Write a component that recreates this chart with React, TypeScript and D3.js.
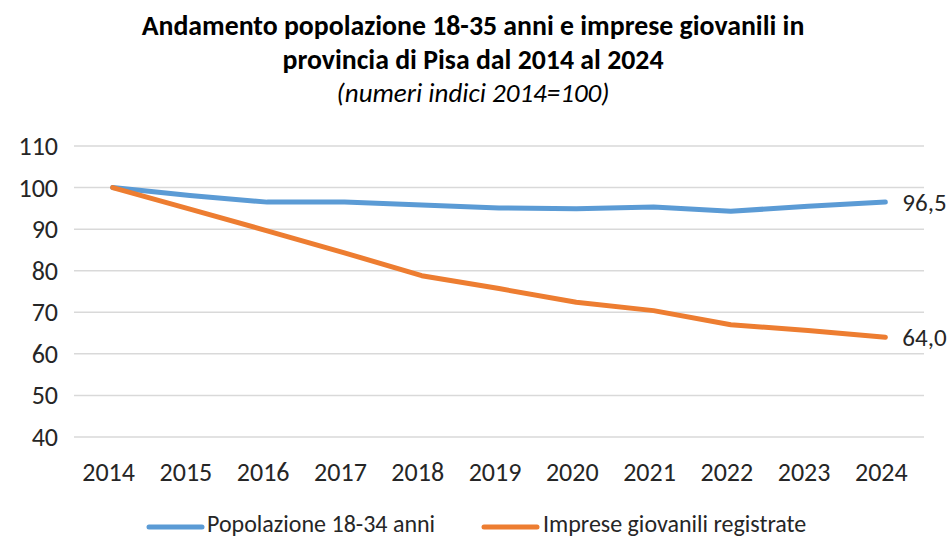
import { useMemo } from "react";
import * as d3 from "d3";

const years = ["2014", "2015", "2016", "2017", "2018", "2019", "2020", "2021", "2022", "2023", "2024"];
const popolazione = [100, 98.1, 96.5, 96.5, 95.8, 95.1, 94.9, 95.3, 94.3, 95.5, 96.5];
const imprese = [100, 94.8, 89.6, 84.3, 78.8, 75.7, 72.4, 70.4, 67.0, 65.6, 64.0];
const yTickValues = [40, 50, 60, 70, 80, 90, 100, 110];

const WIDTH = 948;
const HEIGHT = 537;
const FONT = "Carlito, Calibri, Lato, 'Open Sans', sans-serif";

const BLUE = "#5B9BD5";
const ORANGE = "#ED7D31";
const TEXT = "#262626";

export default function App() {
  const margin = { top: 146, right: 24, bottom: 100, left: 74 };

  const xScale = useMemo(
    () => d3.scaleBand().domain(years).range([margin.left, WIDTH - margin.right]),
    []
  );
  const yScale = useMemo(
    () => d3.scaleLinear().domain([40, 110]).range([HEIGHT - margin.bottom, margin.top]),
    []
  );

  const cx = (y: string) => (xScale(y) ?? 0) + xScale.bandwidth() / 2;

  const line = d3
    .line<number>()
    .x((_, i) => cx(years[i]))
    .y((d) => yScale(d));

  const series = [
    { name: "Popolazione 18-34 anni", values: popolazione, color: BLUE },
    { name: "Imprese giovanili registrate", values: imprese, color: ORANGE },
  ];
  const fmt = (v: number) => v.toFixed(1).replace(".", ",");

  return (
    <svg
      width={WIDTH}
      height={HEIGHT}
      style={{ position: "absolute", left: 0, top: 0, background: "#fff" }}
      fontFamily={FONT}
    >
      {/* Title */}
      <text x={473} y={35} textAnchor="middle" fontSize={27.8} fontWeight="bold" fill="#000">
        Andamento popolazione 18-35 anni e imprese giovanili in
      </text>
      <text x={473} y={69} textAnchor="middle" fontSize={27.8} fontWeight="bold" fill="#000">
        provincia di Pisa dal 2014 al 2024
      </text>
      <text x={473} y={102} textAnchor="middle" fontSize={27} fontStyle="italic" fill="#000">
        (numeri indici 2014=100)
      </text>

      {/* Grid */}
      {yTickValues.map((v) => (
        <g key={v}>
          <line
            x1={margin.left}
            x2={WIDTH - margin.right}
            y1={yScale(v)}
            y2={yScale(v)}
            stroke="#D9D9D9"
            strokeWidth={1.5}
          />
          <text
            x={58}
            y={yScale(v)}
            textAnchor="end"
            dominantBaseline="central"
            fontSize={26}
            fill={TEXT}
          >
            {v}
          </text>
        </g>
      ))}

      {/* X labels */}
      {years.map((y) => (
        <text key={y} x={cx(y) - 4} y={481} textAnchor="middle" fontSize={26} fill={TEXT}>
          {y}
        </text>
      ))}

      {/* Lines */}
      {series.map((s) => (
        <path
          key={s.name}
          d={line(s.values) ?? ""}
          fill="none"
          stroke={s.color}
          strokeWidth={5}
          strokeLinecap="round"
          strokeLinejoin="round"
        />
      ))}

      {/* End labels */}
      {series.map((s) => (
        <text
          key={s.name}
          x={cx(years[years.length - 1]) + 17}
          y={yScale(s.values[s.values.length - 1])}
          dominantBaseline="central"
          fontSize={25}
          fill={TEXT}
        >
          {fmt(s.values[s.values.length - 1])}
        </text>
      ))}

      {/* Legend */}
      <g>
        <line x1={149} x2={202} y1={527} y2={527} stroke={BLUE} strokeWidth={5} strokeLinecap="round" />
        <text x={207} y={532} fontSize={24} fill={TEXT}>
          {series[0].name}
        </text>
        <line x1={484} x2={537} y1={527} y2={527} stroke={ORANGE} strokeWidth={5} strokeLinecap="round" />
        <text x={543} y={532} fontSize={24} fill={TEXT}>
          {series[1].name}
        </text>
      </g>
    </svg>
  );
}
